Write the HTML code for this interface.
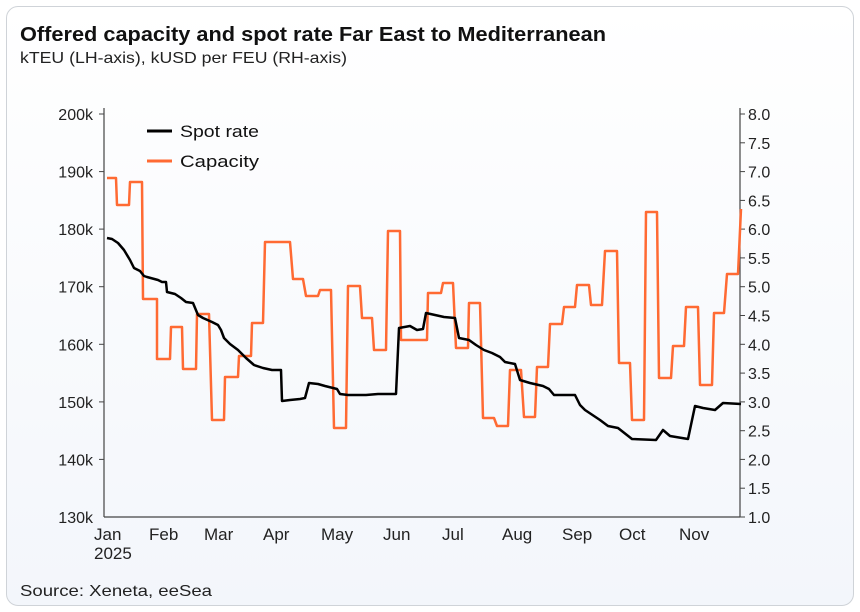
<!DOCTYPE html>
<html><head><style>
body{margin:0;background:#fff;width:860px;height:612px;overflow:hidden;font-family:"Liberation Sans",sans-serif}
.card{position:absolute;left:6px;top:6px;width:846px;height:598px;border:1px solid #cfd3d8;border-radius:12px;background:linear-gradient(180deg,#fff 0%,#f3f6fb 100%)}
</style></head><body>
<div class="card"></div>
<svg width="860" height="612" style="position:absolute;left:0;top:0" font-family="Liberation Sans, sans-serif">
<text x="20" y="41" font-size="20" font-weight="bold" fill="#111" textLength="586" lengthAdjust="spacingAndGlyphs">Offered capacity and spot rate Far East to Mediterranean</text>
<text x="20" y="63" font-size="16" fill="#222" textLength="327" lengthAdjust="spacingAndGlyphs">kTEU (LH-axis), kUSD per FEU (RH-axis)</text>
<g stroke="#444" stroke-width="1.2">
<line x1="104" y1="108" x2="104" y2="517"/>
<line x1="740" y1="108" x2="740" y2="517"/>
<line x1="104" y1="517" x2="740" y2="517"/>
</g>
<g stroke="#444" stroke-width="1">
<line x1="99" y1="114" x2="104" y2="114"/><line x1="99" y1="171.6" x2="104" y2="171.6"/><line x1="99" y1="229.1" x2="104" y2="229.1"/><line x1="99" y1="286.7" x2="104" y2="286.7"/><line x1="99" y1="344.3" x2="104" y2="344.3"/><line x1="99" y1="401.9" x2="104" y2="401.9"/><line x1="99" y1="459.4" x2="104" y2="459.4"/>
</g>
<g font-size="16" fill="#222" text-anchor="end">
<text x="93" y="120">200k</text><text x="93" y="177.6">190k</text><text x="93" y="235">180k</text><text x="93" y="292.7">170k</text><text x="93" y="350.3">160k</text><text x="93" y="407.9">150k</text><text x="93" y="465.4">140k</text><text x="93" y="523">130k</text>
</g>
<g font-size="16" fill="#222">
<text x="748" y="120">8.0</text><text x="748" y="148.8">7.5</text><text x="748" y="177.6">7.0</text><text x="748" y="206.4">6.5</text><text x="748" y="235.2">6.0</text><text x="748" y="264">5.5</text><text x="748" y="292.7">5.0</text><text x="748" y="321.5">4.5</text><text x="748" y="350.3">4.0</text><text x="748" y="379.1">3.5</text><text x="748" y="407.9">3.0</text><text x="748" y="436.7">2.5</text><text x="748" y="465.4">2.0</text><text x="748" y="494.2">1.5</text><text x="748" y="523">1.0</text>
</g>
<g stroke="#444" stroke-width="1">
<line x1="740" y1="114" x2="745" y2="114"/><line x1="740" y1="142.8" x2="745" y2="142.8"/><line x1="740" y1="171.6" x2="745" y2="171.6"/><line x1="740" y1="200.4" x2="745" y2="200.4"/><line x1="740" y1="229.1" x2="745" y2="229.1"/><line x1="740" y1="257.9" x2="745" y2="257.9"/><line x1="740" y1="286.7" x2="745" y2="286.7"/><line x1="740" y1="315.5" x2="745" y2="315.5"/><line x1="740" y1="344.3" x2="745" y2="344.3"/><line x1="740" y1="373.1" x2="745" y2="373.1"/><line x1="740" y1="401.9" x2="745" y2="401.9"/><line x1="740" y1="430.7" x2="745" y2="430.7"/><line x1="740" y1="459.4" x2="745" y2="459.4"/><line x1="740" y1="488.2" x2="745" y2="488.2"/><line x1="740" y1="517" x2="745" y2="517"/>
</g>
<g font-size="17" fill="#222">
<text x="94" y="540">Jan</text><text x="94" y="559">2025</text><text x="149" y="540">Feb</text><text x="204" y="540">Mar</text><text x="263" y="540">Apr</text><text x="321" y="540">May</text><text x="383" y="540">Jun</text><text x="442" y="540">Jul</text><text x="502" y="540">Aug</text><text x="562" y="540">Sep</text><text x="619" y="540">Oct</text><text x="679" y="540">Nov</text>
</g>
<polyline fill="none" stroke="#ff6a33" stroke-width="2.5" stroke-linejoin="round" points="107,178 116,178 117,205 129,205 130,182 142,182 143,299 157,299 157,359 170,359 171,327 182,327 183,369 196,369 197,314 209,314 212,420 224,420 225,377 238,377 239,356 251,356 252,323 263,323 265,242 290,242 293,279 303,279 306,296 318,296 320,290 331,290 334,428 346,428 348,286 360,286 362,318 372,318 374,350 386,350 388,231 400,231 401,340 427,340 428,293 441,293 443,283 453,283 456,348 468,348 469,303 480,303 483,418 494,418 497,426 508,426 510,370 521,370 524,417 535,417 537,367 548,367 550,324 562,324 564,307 575,307 577,285 589,285 591,305 602,305 605,251 617,251 619,363 630,363 632,420 644,420 646,212 657,212 659,378 671,378 673,346 684,346 686,307 698,307 700,385 712,385 714,313 724,313 727,274 738,274 741,209"/>
<polyline fill="none" stroke="#000" stroke-width="2.5" stroke-linejoin="round" points="107,238 112,239 118,243 124,250 130,260 134,268 140,271 144,276 147,277 158,280 162,282 166,282 167,292 175,294 181,298 186,302 193,303 198,315 203,318 212,322 218,325 221,330 224,338 230,344 238,350 246,358 254,365 263,368 272,370 281,370 282,401 290,400 300,399 305,398 309,383 318,384 325,386 337,389 340,394 348,395 366,395 378,394 396,394 399,328 410,326 417,330 423,329 426,313 435,315 444,317 455,318 459,338 469,340 476,345 484,350 492,353 500,357 505,362 515,364 520,380 530,383 543,386 549,389 554,395 575,395 580,405 585,410 600,420 608,426 618,428 632,439 656,440 663,430 670,436 688,439 695,406 703,408 715,410 723,403 741,404"/>
<line x1="147" y1="131" x2="172" y2="131" stroke="#000" stroke-width="3"/>
<text x="180" y="137" font-size="17" fill="#111" textLength="79" lengthAdjust="spacingAndGlyphs">Spot rate</text>
<line x1="147" y1="161" x2="172" y2="161" stroke="#ff6a33" stroke-width="3"/>
<text x="180" y="167" font-size="17" fill="#111" textLength="79" lengthAdjust="spacingAndGlyphs">Capacity</text>
<text x="20" y="596" font-size="16" fill="#222" textLength="192" lengthAdjust="spacingAndGlyphs">Source: Xeneta, eeSea</text>
</svg>
</body></html>
